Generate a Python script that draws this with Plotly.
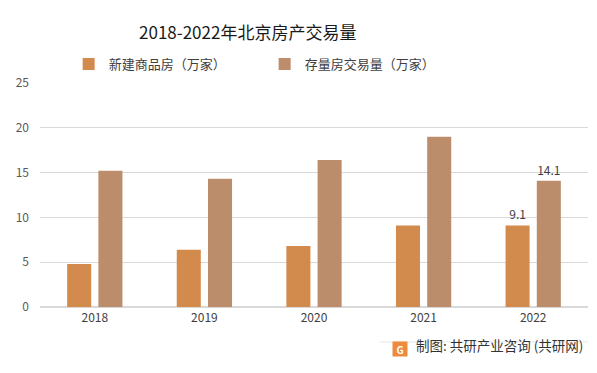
import plotly.graph_objects as go

years = ["2018", "2019", "2020", "2021", "2022"]
new_homes = [4.8, 6.4, 6.8, 9.1, 9.1]
existing_homes = [15.2, 14.3, 16.4, 19.0, 14.1]
new_labels = ["", "", "", "", "9.1"]
existing_labels = ["", "", "", "", "14.1"]
series_names = ["新建商品房（万家）", "存量房交易量（万家）"]
title_text = "2018-2022年北京房产交易量"
source_text = "制图: 共研产业咨询 (共研网)"

FONT = "Noto Sans CJK SC, Microsoft YaHei, sans-serif"

fig = go.Figure()
fig.add_trace(go.Bar(
    x=years, y=new_homes, name=series_names[0],
    marker=dict(color="#D38B4D", line=dict(width=0)),
    text=new_labels, textposition="outside",
    textfont=dict(size=12, color="#404040", family=FONT),
    cliponaxis=False,
))
fig.add_trace(go.Bar(
    x=years, y=existing_homes, name=series_names[1],
    marker=dict(color="#BB8D6B", line=dict(width=0)),
    text=existing_labels, textposition="outside",
    textfont=dict(size=12, color="#404040", family=FONT),
    cliponaxis=False,
))

fig.update_layout(
    width=597, height=373,
    margin=dict(l=40, r=9, t=83, b=66, autoexpand=False),
    paper_bgcolor="white", plot_bgcolor="white",
    barmode="group", bargap=0.43, bargroupgap=0.23,
    font=dict(family=FONT, color="#595959"),
    title=dict(text=title_text, x=0.415, xanchor="center", xref="container",
               y=0.912, yanchor="middle", yref="container",
               font=dict(size=17, color="#1a1a1a", family=FONT)),
    legend=dict(orientation="h", xref="container", yref="container",
                x=0.115, xanchor="left", y=0.828, yanchor="middle",
                font=dict(size=13, color="#404040", family=FONT),
                entrywidth=151, itemwidth=30, bgcolor="rgba(0,0,0,0)"),
    showlegend=True,
)
fig.update_xaxes(showgrid=False, showline=True, linecolor="#d9d9d9", linewidth=1,
                 ticks="", tickfont=dict(size=12, color="#404040"))
fig.update_yaxes(range=[0, 25], dtick=5, showgrid=True, gridcolor="#d9d9d9", gridwidth=1,
                 zeroline=True, zerolinecolor="#d9d9d9", showline=False, ticks="",
                 tickfont=dict(size=12, color="#595959"), ticklabelstandoff=10)

# footer separator line
fig.add_shape(type="line", xref="paper", yref="paper", x0=0.62, x1=1.0, y0=-0.156, y1=-0.156,
              line=dict(color="#e6e6e6", width=1))
# logo box
fig.add_annotation(xref="paper", yref="paper", x=0.657, y=-0.223, text="<b>G</b>",
                   showarrow=False, font=dict(size=10, color="white", family=FONT),
                   bgcolor="#EE8A3C", borderpad=1, width=12, height=12)
fig.add_annotation(xref="paper", yref="paper", x=0.682, y=-0.223, text=source_text,
                   xanchor="left", showarrow=False,
                   font=dict(size=13.5, color="#333333", family=FONT))

fig.write_html("out.html", config={"displayModeBar": False},
               post_script="document.body.style.margin='0';document.body.style.overflow='hidden';")
